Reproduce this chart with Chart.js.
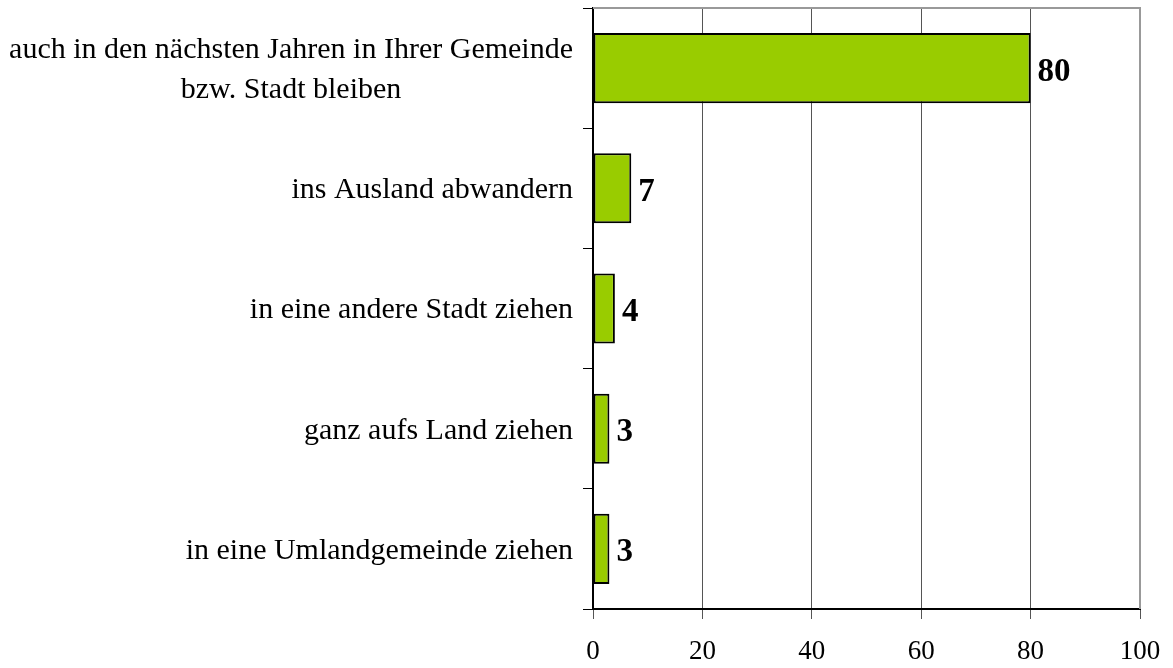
<!DOCTYPE html>
<html>
<head>
<meta charset="utf-8">
<script src="https://cdn.jsdelivr.net/npm/chart.js@4"></script>
<style>
  html, body { margin: 0; padding: 0; background: #fff; }
  #wrap { width: 1173px; height: 668px; }
</style>
</head>
<body>
<div id="wrap"><canvas id="c"></canvas></div>
<script>
const categories = [
  ['auch in den nächsten Jahren in Ihrer Gemeinde', 'bzw. Stadt bleiben'],
  ['ins Ausland abwandern'],
  ['in eine andere Stadt ziehen'],
  ['ganz aufs Land ziehen'],
  ['in eine Umlandgemeinde ziehen']
];
const values = [80, 7, 4, 3, 3];
const xTicks = [0, 20, 40, 60, 80, 100];

const SERIF = "'Liberation Serif', 'Times New Roman', serif";
const LABEL_RIGHT = 573;

// category labels: block right-aligned at the axis, lines centred in the block
const catLabels = {
  id: 'catLabels',
  afterDraw(chart) {
    const ctx = chart.ctx, y = chart.scales.y;
    ctx.save();
    ctx.font = '30px ' + SERIF;
    ctx.fillStyle = '#000';
    ctx.textAlign = 'center';
    ctx.textBaseline = 'middle';
    const lh = 40;
    categories.forEach((lines, i) => {
      const w = Math.max(...lines.map(l => ctx.measureText(l).width));
      const cx = LABEL_RIGHT - w / 2;
      const cy = y.getPixelForValue(i) + 2;
      lines.forEach((l, j) => {
        ctx.fillText(l, cx, cy + (j - (lines.length - 1) / 2) * lh);
      });
    });
    ctx.restore();
  }
};

// bold value labels at bar end
const valueLabels = {
  id: 'valueLabels',
  afterDatasetsDraw(chart) {
    const ctx = chart.ctx;
    const meta = chart.getDatasetMeta(0);
    ctx.save();
    ctx.font = 'bold 33px ' + SERIF;
    ctx.fillStyle = '#000';
    ctx.textAlign = 'left';
    ctx.textBaseline = 'middle';
    meta.data.forEach((bar, i) => {
      ctx.fillText(String(values[i]), bar.x + 7, bar.y + 4);
    });
    ctx.restore();
  }
};

// gray frame on top and right of plot area
const frame = {
  id: 'frame',
  beforeDatasetsDraw(chart) {
    const { ctx, chartArea: a } = chart;
    ctx.save();
    ctx.strokeStyle = '#999';
    ctx.lineWidth = 2;
    ctx.beginPath();
    ctx.moveTo(a.left, a.top);
    ctx.lineTo(a.right, a.top);
    ctx.lineTo(a.right, a.bottom);
    ctx.stroke();
    ctx.restore();
  }
};

new Chart(document.getElementById('c'), {
  type: 'bar',
  data: {
    labels: categories,
    datasets: [{
      data: values,
      backgroundColor: '#99cc00',
      borderColor: '#000',
      borderWidth: 2,
      borderSkipped: false,
      categoryPercentage: 0.583,
      barPercentage: 1
    }]
  },
  options: {
    indexAxis: 'y',
    responsive: true,
    maintainAspectRatio: false,
    animation: false,
    layout: { padding: { top: 8, right: 33, left: 0, bottom: 0 } },
    plugins: { legend: { display: false }, tooltip: { enabled: false } },
    scales: {
      x: {
        min: 0, max: 100,
        afterBuildTicks(s) { s.ticks = xTicks.map(v => ({ value: v })); },
        afterFit(s) { s.height = 59; s.paddingLeft = 0; s.paddingRight = 0; },
        grid: { color: '#555', lineWidth: 1, tickLength: 10 },
        border: { color: '#000', width: 2 },
        ticks: { color: '#000', font: { family: SERIF, size: 27 }, padding: 17, maxRotation: 0 }
      },
      y: {
        afterFit(s) { s.width = 593; },
        grid: { offset: true, drawOnChartArea: false, color: '#000', tickLength: 10, lineWidth: 1 },
        border: { color: '#000', width: 2 },
        ticks: { display: false }
      }
    }
  },
  plugins: [frame, valueLabels, catLabels]
});
</script>
</body>
</html>
